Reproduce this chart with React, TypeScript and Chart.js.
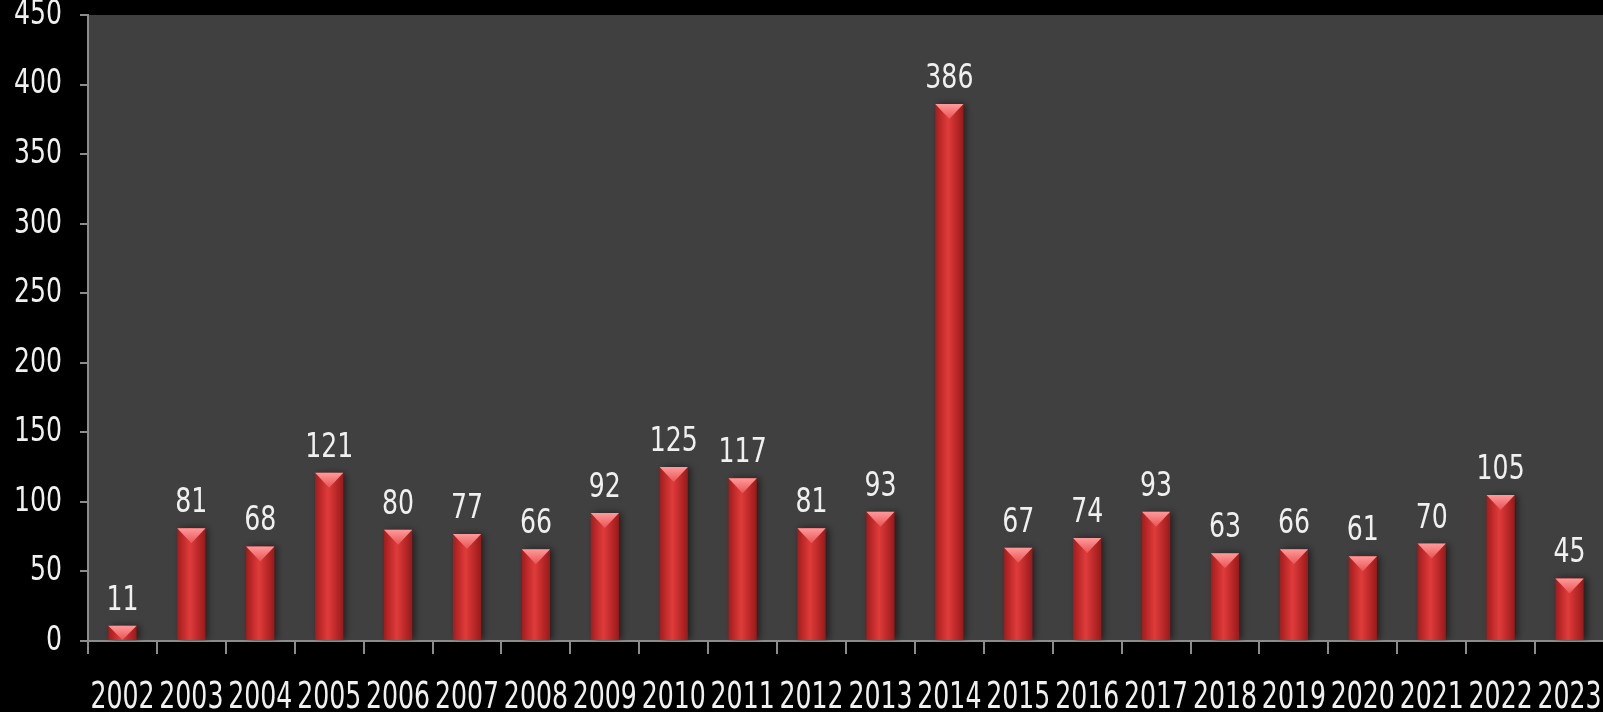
import { useEffect, useRef } from "react";
import { Chart, registerables, CategoryScale, LinearScale } from "chart.js";

const years = [
  "2002", "2003", "2004", "2005", "2006", "2007", "2008", "2009", "2010", "2011", "2012",
  "2013", "2014", "2015", "2016", "2017", "2018", "2019", "2020", "2021", "2022", "2023",
];
const counts = [11, 81, 68, 121, 80, 77, 66, 92, 125, 117, 81, 93, 386, 67, 74, 93, 63, 66, 61, 70, 105, 45];
const yMin = 0;
const yMax = 450;
const yStep = 50;

const FONT = "'DejaVu Sans Condensed', 'DejaVu Sans', sans-serif";
const FONT_SIZE = 28;
const X_STRETCH = 1.32;
const Y_STRETCH = 1.22;
const BAR_FRACTION = 0.41;

// Draw tick labels vertically stretched (the reference uses a tall, narrow face)
function stretchedDrawLabels(this: any, area: any, k: number, parentDraw: Function) {
  const items = this.getLabelItems(area);
  const saved = items.map((it: any) => it.options.translation);
  items.forEach((it: any) => {
    const t = it.options.translation;
    it.options.translation = [t[0], t[1] / k];
  });
  const ctx = this.ctx;
  ctx.save();
  ctx.scale(1, k);
  parentDraw.call(this, area);
  ctx.restore();
  items.forEach((it: any, i: number) => {
    it.options.translation = saved[i];
  });
}

class TallCategoryScale extends (CategoryScale as any) {
  static id = "tallCategory";
  _computeLabelArea() {
    return undefined;
  }
  drawLabels(area: any) {
    stretchedDrawLabels.call(this, area, X_STRETCH, super.drawLabels);
  }
}

class TallLinearScale extends (LinearScale as any) {
  static id = "tallLinear";
  _computeLabelArea() {
    return undefined;
  }
  drawLabels(area: any) {
    stretchedDrawLabels.call(this, area, Y_STRETCH, super.drawLabels);
  }
}

Chart.register(...registerables, TallCategoryScale as any, TallLinearScale as any);

const bgPlugin = {
  id: "bgPlugin",
  beforeDraw(chart: any) {
    const { ctx, chartArea } = chart;
    ctx.save();
    ctx.fillStyle = "#000000";
    ctx.fillRect(0, 0, chart.width, chart.height);
    ctx.fillStyle = "#404040";
    ctx.fillRect(chartArea.left, chartArea.top, chartArea.right - chartArea.left, chartArea.bottom - chartArea.top);
    ctx.restore();
  },
};

const shadowPlugin = {
  id: "shadowPlugin",
  beforeDatasetsDraw(chart: any) {
    const ctx = chart.ctx;
    ctx.save();
    ctx.shadowColor = "rgba(0,0,0,0.55)";
    ctx.shadowBlur = 7;
    ctx.shadowOffsetX = 3;
    ctx.shadowOffsetY = 0;
  },
  afterDatasetsDraw(chart: any) {
    chart.ctx.restore();
  },
};

const decoPlugin = {
  id: "decoPlugin",
  afterDatasetsDraw(chart: any) {
    const { ctx } = chart;
    const meta = chart.getDatasetMeta(0);
    ctx.save();
    meta.data.forEach((el: any) => {
      const w = el.width;
      const h = el.base - el.y;
      const depth = Math.min(15, h);
      if (![el.x, el.y, w, depth].every(Number.isFinite)) return;
      const g = ctx.createLinearGradient(0, el.y, 0, el.y + depth);
      g.addColorStop(0, "#ff9a9a");
      g.addColorStop(1, "#e85454");
      ctx.fillStyle = g;
      ctx.beginPath();
      ctx.moveTo(el.x - w / 2, el.y);
      ctx.lineTo(el.x + w / 2, el.y);
      ctx.lineTo(el.x, el.y + depth);
      ctx.closePath();
      ctx.fill();
    });
    ctx.font = `${FONT_SIZE}px ${FONT}`;
    ctx.fillStyle = "#f0f0f0";
    ctx.textAlign = "center";
    ctx.textBaseline = "alphabetic";
    meta.data.forEach((el: any, i: number) => {
      ctx.save();
      ctx.translate(el.x, el.y - 16);
      ctx.scale(1, Y_STRETCH);
      ctx.fillText(String(counts[i]), 0, 0);
      ctx.restore();
    });
    ctx.restore();
  },
};

const zeroPad = (s: any) => {
  s.paddingLeft = 0;
  s.paddingRight = 0;
  s.paddingTop = 0;
  s.paddingBottom = 0;
};

export default function App() {
  const canvasRef = useRef<HTMLCanvasElement | null>(null);

  useEffect(() => {
    const canvas = canvasRef.current;
    if (!canvas) return;
    const chart = new Chart(canvas, {
      type: "bar",
      data: {
        labels: years,
        datasets: [
          {
            data: counts,
            barPercentage: BAR_FRACTION,
            categoryPercentage: 1,
            borderWidth: 0,
            backgroundColor: (c: any) => {
              const ch = c.chart;
              const xs = ch.scales && ch.scales.x;
              if (!xs || c.type !== "data") return "#c62828";
              const cx = xs.getPixelForValue(c.dataIndex);
              const half = ((xs.width / years.length) * BAR_FRACTION) / 2;
              if (!Number.isFinite(cx) || !Number.isFinite(half)) return "#c62828";
              const g = ch.ctx.createLinearGradient(cx - half, 0, cx + half, 0);
              g.addColorStop(0, "#a31c1c");
              g.addColorStop(0.45, "#e03b3b");
              g.addColorStop(1, "#9a1919");
              return g;
            },
          },
        ],
      },
      options: {
        responsive: false,
        animation: false,
        devicePixelRatio: 1,
        layout: { padding: { top: 15, right: 0, left: 0, bottom: 0 } },
        plugins: { legend: { display: false }, tooltip: { enabled: false } },
        scales: {
          x: {
            type: "tallCategory" as any,
            offset: true,
            grid: {
              offset: true,
              drawOnChartArea: false,
              drawTicks: true,
              tickLength: 13,
              color: "#8c8c8c",
              lineWidth: 2,
            },
            border: { color: "#8c8c8c", width: 2 },
            ticks: {
              color: "#f0f0f0",
              font: { family: FONT, size: FONT_SIZE },
              padding: 22,
              maxRotation: 0,
              autoSkip: false,
            },
            afterFit: (s: any) => {
              s.height = 71;
              zeroPad(s);
            },
          },
          y: {
            type: "tallLinear" as any,
            min: yMin,
            max: yMax,
            grid: {
              drawOnChartArea: false,
              drawTicks: true,
              tickLength: 8,
              color: "#8c8c8c",
              lineWidth: 2,
            },
            border: { color: "#8c8c8c", width: 2 },
            ticks: {
              stepSize: yStep,
              color: "#f0f0f0",
              font: { family: FONT, size: FONT_SIZE },
              padding: 18,
            },
            afterFit: (s: any) => {
              s.width = 88;
              zeroPad(s);
            },
          },
        },
      },
      plugins: [bgPlugin, shadowPlugin, decoPlugin],
    });
    return () => chart.destroy();
  }, []);

  return (
    <div
      style={{
        position: "fixed",
        left: 0,
        top: 0,
        width: 1603,
        height: 712,
        overflow: "hidden",
        background: "#000",
      }}
    >
      <canvas ref={canvasRef} width={1604} height={712} style={{ display: "block" }} />
    </div>
  );
}
